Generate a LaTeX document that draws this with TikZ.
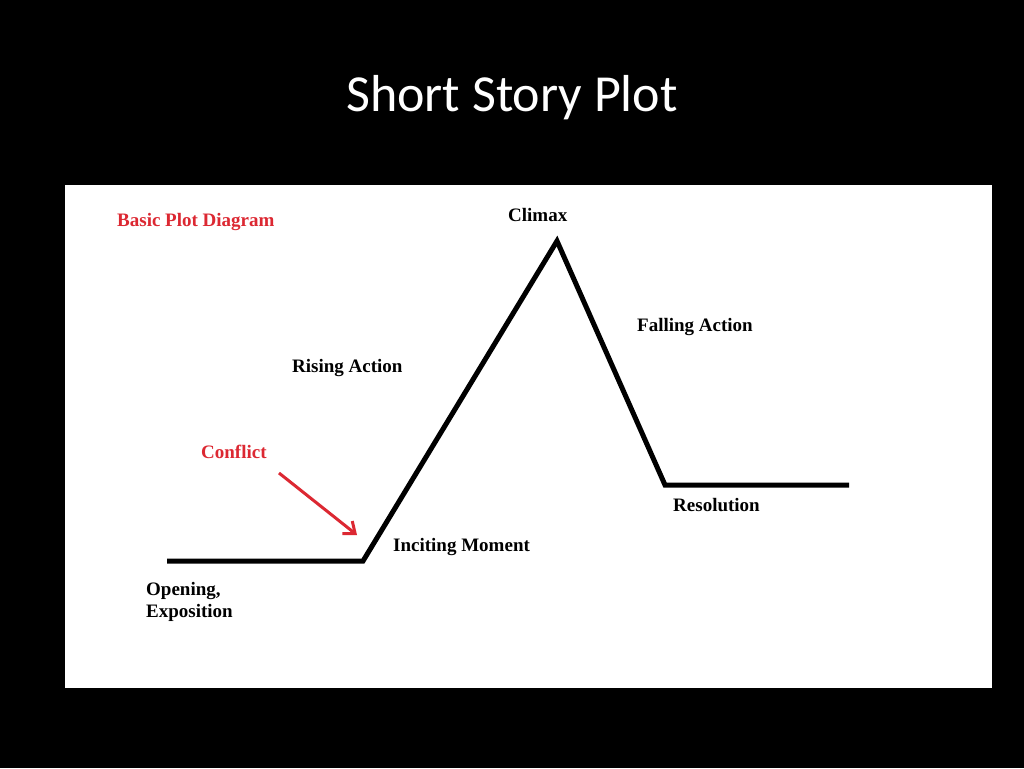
\documentclass[tikz,border=0pt]{standalone}
\usepackage{fontspec}
\setmainfont{Liberation Serif}
\newfontfamily\titlefont{Carlito}
\usetikzlibrary{arrows.meta}
\definecolor{lblred}{RGB}{220,40,50}
\begin{document}
\begin{tikzpicture}[x=1pt,y=-1pt,
  lbl/.style={font=\fontsize{19}{22}\selectfont\bfseries,anchor=west,inner sep=0},
  plotline/.style={line width=5pt,line join=miter}]
\fill[black] (0,0) rectangle (1024,768);
\useasboundingbox (0,0) rectangle (1024,768);
\fill[white] (65,185) rectangle (992,688);
\node[font=\titlefont\fontsize{52}{60}\selectfont,text=white] (title) at (512,98) {Short Story Plot};
\coordinate (a) at (167,561);
\coordinate (b) at (363,561);
\coordinate (c) at (557,241);
\coordinate (d) at (665,485);
\coordinate (e) at (849,485);
\draw[plotline] (a) -- (b) -- (c) -- (d) -- (e);
\node[lbl,text=lblred] (basic) at (117,222) {Basic Plot Diagram};
\node[lbl] (climax) at (508,215) {Climax};
\node[lbl] (falling) at (637,327) {Falling Action};
\node[lbl] (rising) at (292,368) {Rising Action};
\node[lbl,text=lblred] (conflict) at (201,452) {Conflict};
\node[lbl] (incite) at (393,547) {Inciting Moment};
\node[lbl] (resol) at (673,505) {Resolution};
\node[lbl,align=left,anchor=north west] (open) at (146,582) {Opening,\\Exposition};
\coordinate (arrs) at (279,473);
\coordinate (arre) at (357,535);
\draw[lblred,line width=3pt,-{Straight Barb[length=10pt,width=16pt]}] (arrs) -- (arre);
\end{tikzpicture}
\end{document}
